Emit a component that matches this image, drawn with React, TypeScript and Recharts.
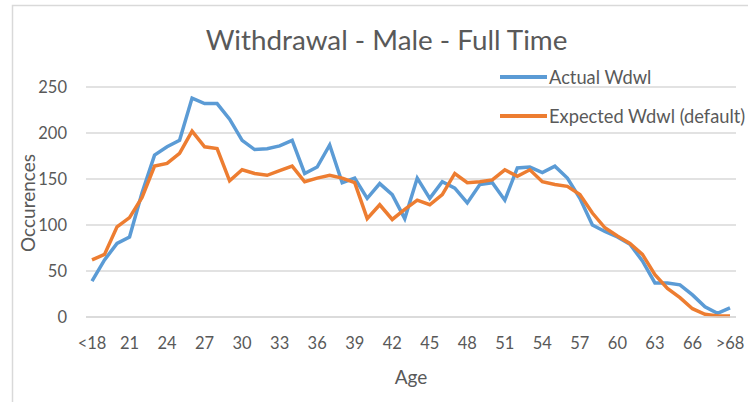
import React from 'react';
import { LineChart, Line, XAxis, YAxis, CartesianGrid, Legend } from 'recharts';

// Age categories along the horizontal axis
const ages = [
  '<18', '19', '20', '21', '22', '23', '24', '25', '26', '27',
  '28', '29', '30', '31', '32', '33', '34', '35', '36', '37',
  '38', '39', '40', '41', '42', '43', '44', '45', '46', '47',
  '48', '49', '50', '51', '52', '53', '54', '55', '56', '57',
  '58', '59', '60', '61', '62', '63', '64', '65', '66', '67',
  '68', '>68',
];

// Observed withdrawals per age
const actualWdwl = [
  39, 62, 80, 87, 135, 176, 185, 192, 238, 232,
  232, 215, 192, 182, 183, 186, 192, 156, 163, 187,
  146, 151, 129, 145, 133, 107, 151, 129, 147, 140,
  124, 144, 146, 127, 162, 163, 157, 164, 151, 129,
  100, 93, 87, 79, 61, 37, 37, 35, 24, 11,
  4, 10,
];

// Expected withdrawals per age (default assumptions)
const expectedWdwl = [
  62, 68, 98, 108, 130, 164, 167, 178, 202, 185,
  183, 148, 160, 156, 154, 159, 164, 147, 151, 154,
  151, 146, 107, 122, 106, 117, 127, 122, 133, 156,
  146, 147, 149, 160, 153, 160, 147, 144, 142, 133,
  113, 97, 88, 80, 68, 46, 31, 21, 9, 3,
  1, 1,
];

const yTicks = [0, 50, 100, 150, 200, 250];

const data = ages.map((age, i) => ({
  age,
  actual: actualWdwl[i],
  expected: expectedWdwl[i],
}));

const FONT = 'Lato, "Liberation Sans", sans-serif';
const TEXT = '#595959';
const GRID = '#d9d9d9';

const renderLegend = (props: any) => {
  const items = props.payload || [];
  return (
    <div>
      {items.map((entry: any) => (
        <div
          key={entry.value}
          style={{ display: 'flex', alignItems: 'center', height: 39 }}
        >
          <div style={{ width: 47, height: 4, background: entry.color }} />
          <span
            style={{
              marginLeft: 2,
              fontFamily: FONT,
              fontSize: 18.3,
              color: TEXT,
              whiteSpace: 'nowrap',
            }}
          >
            {entry.value}
          </span>
        </div>
      ))}
    </div>
  );
};

export default function App() {
  return (
    <div
      style={{
        position: 'absolute',
        left: 0,
        top: 0,
        width: 748,
        height: 402,
        background: '#ffffff',
      }}
    >
      <LineChart
        width={748}
        height={402}
        data={data}
        margin={{ top: 87, right: 12, bottom: 55, left: 36 }}
        style={{ fontFamily: FONT }}
      >
        <CartesianGrid vertical={false} stroke={GRID} strokeWidth={1.5} />
        <XAxis
          dataKey="age"
          interval={2}
          height={30}
          padding={{ left: 6, right: 6 }}
          tickLine={false}
          tickSize={0}
          tickMargin={20}
          axisLine={{ stroke: GRID, strokeWidth: 1.5 }}
          tick={{ fill: TEXT, fontSize: 16.5, fontFamily: FONT }}
        />
        <YAxis
          width={50}
          domain={[0, 250]}
          ticks={yTicks}
          axisLine={false}
          tickLine={false}
          tickSize={0}
          tickMargin={19}
          tick={{ fill: TEXT, fontSize: 16.5, fontFamily: FONT }}
        />
        <Legend
          layout="vertical"
          align="center"
          verticalAlign="middle"
          content={renderLegend}
          wrapperStyle={{ top: 57, left: 500, width: 'auto' }}
        />
        <Line
          type="linear"
          dataKey="actual"
          name="Actual Wdwl"
          stroke="#5B9BD5"
          strokeWidth={3.5}
          dot={false}
          isAnimationActive={false}
        />
        <Line
          type="linear"
          dataKey="expected"
          name="Expected Wdwl (default)"
          stroke="#ED7D31"
          strokeWidth={3.5}
          dot={false}
          isAnimationActive={false}
        />
      </LineChart>
      <svg
        width={748}
        height={402}
        style={{ position: 'absolute', left: 0, top: 0, pointerEvents: 'none' }}
      >
        {/* chart area frame: top and left edges */}
        <path d="M12.5 402 V5.5 H748" fill="none" stroke={GRID} strokeWidth={1.5} />
        <text x={386.5} y={50} textAnchor="middle" fontFamily={FONT} fontSize={27.8} fill={TEXT}>
          Withdrawal - Male - Full Time
        </text>
        <text x={411} y={384} textAnchor="middle" fontFamily={FONT} fontSize={19} fill={TEXT}>
          Age
        </text>
        <text
          transform="translate(35, 203) rotate(-90)"
          textAnchor="middle"
          fontFamily={FONT}
          fontSize={19}
          fill={TEXT}
        >
          Occurences
        </text>
      </svg>
    </div>
  );
}
